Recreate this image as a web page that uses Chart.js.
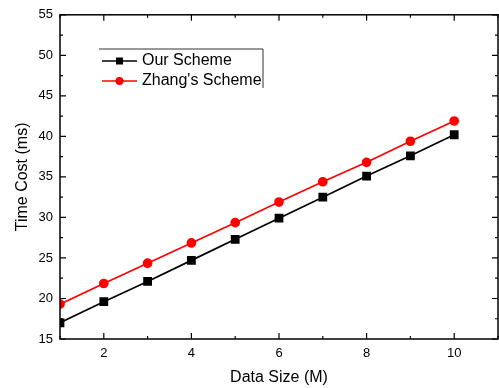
<!DOCTYPE html>
<html>
<head>
<meta charset="utf-8">
<script src="https://cdn.jsdelivr.net/npm/chart.js@4"></script>
<style>
  html,body{margin:0;padding:0;background:#fff;overflow:hidden;}
  canvas{display:block;}
</style>
</head>
<body>
<canvas id="c" width="499" height="388"></canvas>
<script>
const dataSize = [1, 2, 3, 4, 5, 6, 7, 8, 9, 10];
const ourScheme = [17.0, 19.6, 22.1, 24.7, 27.3, 29.9, 32.5, 35.1, 37.6, 40.2];
const zhangScheme = [19.3, 21.85, 24.35, 26.85, 29.35, 31.9, 34.4, 36.8, 39.4, 41.9];
const xTicks = [2, 4, 6, 8, 10];
const yTicks = [15, 20, 25, 30, 35, 40, 45, 50, 55];

const FONT = '"Liberation Sans", Arial, sans-serif';

// frame + inward ticks on all four sides
const framePlugin = {
  id: 'frame',
  afterDraw(chart) {
    const {ctx, chartArea: a, scales: {x, y}} = chart;
    ctx.save();
    ctx.strokeStyle = '#000';
    ctx.lineWidth = 1.5;
    ctx.strokeRect(a.left, a.top, a.right - a.left, a.bottom - a.top);
    ctx.lineWidth = 1.2;
    ctx.beginPath();
    for (let v = 1; v <= 11; v++) {
      const px = x.getPixelForValue(v);
      const len = v % 2 === 0 ? 6 : 3;
      ctx.moveTo(px, a.bottom); ctx.lineTo(px, a.bottom - len);
      ctx.moveTo(px, a.top); ctx.lineTo(px, a.top + len);
    }
    for (let v = 15; v <= 55; v += 2.5) {
      const py = y.getPixelForValue(v);
      const len = v % 5 === 0 ? 6 : 3;
      ctx.moveTo(a.left, py); ctx.lineTo(a.left + len, py);
      ctx.moveTo(a.right, py); ctx.lineTo(a.right - len, py);
    }
    ctx.stroke();

    // legend
    const lx = 99, ly = 49;
    ctx.lineWidth = 1;
    ctx.strokeStyle = '#333';
    ctx.beginPath();
    ctx.moveTo(lx, ly); ctx.lineTo(263, ly); ctx.lineTo(263, 88);
    ctx.stroke();
    chart.data.datasets.forEach((ds, i) => {
      const yy = 61 + i * 20;
      ctx.strokeStyle = ds.borderColor;
      ctx.lineWidth = 1.7;
      ctx.beginPath(); ctx.moveTo(102, yy); ctx.lineTo(137, yy); ctx.stroke();
      ctx.fillStyle = ds.backgroundColor;
      ctx.beginPath();
      if (ds.pointStyle === 'rect') ctx.rect(116, yy - 3.5, 7, 7);
      else ctx.arc(119.5, yy, 4, 0, Math.PI * 2);
      ctx.fill();
      ctx.fillStyle = '#000';
      ctx.font = '16px ' + FONT;
      ctx.textBaseline = 'middle';
      ctx.fillText(ds.label, 142, yy);
    });
    ctx.restore();
  }
};

new Chart(document.getElementById('c'), {
  type: 'line',
  data: {
    datasets: [
      {label: 'Our Scheme', data: dataSize.map((v, i) => ({x: v, y: ourScheme[i]})),
       borderColor: '#000', backgroundColor: '#000', pointStyle: 'rect',
       pointRadius: 5, borderWidth: 1.7},
      {label: "Zhang's Scheme", data: dataSize.map((v, i) => ({x: v, y: zhangScheme[i]})),
       borderColor: '#f00', backgroundColor: '#f00', pointStyle: 'circle',
       pointRadius: 4, borderWidth: 1.7}
    ]
  },
  options: {
    responsive: false,
    animation: false,
    layout: {autoPadding: false, padding: {top: 14, right: 1, left: 0, bottom: 0}},
    plugins: {legend: {display: false}, tooltip: {enabled: false}},
    scales: {
      x: {
        type: 'linear', min: 1, max: 11,
        grid: {display: false, drawTicks: false, tickLength: 0},
        border: {display: false},
        afterBuildTicks: s => { s.ticks = [...xTicks, 11].map(v => ({value: v})); },
        afterFit: s => { s.height = 49; s.paddingRight = 0; },
        ticks: {color: '#000', font: {size: 13, family: FONT}, padding: 7,
                callback: v => xTicks.includes(v) ? String(v) : ''},
        title: {display: true, text: 'Data Size (M)', color: '#000',
                font: {size: 16, family: FONT}, padding: {top: 2, bottom: 1}}
      },
      y: {
        min: 15, max: 55,
        grid: {display: false, drawTicks: false, tickLength: 0},
        border: {display: false},
        afterBuildTicks: s => { s.ticks = yTicks.map(v => ({value: v})); },
        afterFit: s => { s.width = 60; },
        ticks: {color: '#000', font: {size: 13, family: FONT}, padding: 7},
        title: {display: true, text: 'Time Cost (ms)', color: '#000',
                font: {size: 16, family: FONT}, padding: {top: 13, bottom: 0}}
      }
    }
  },
  plugins: [framePlugin]
});
</script>
</body>
</html>
